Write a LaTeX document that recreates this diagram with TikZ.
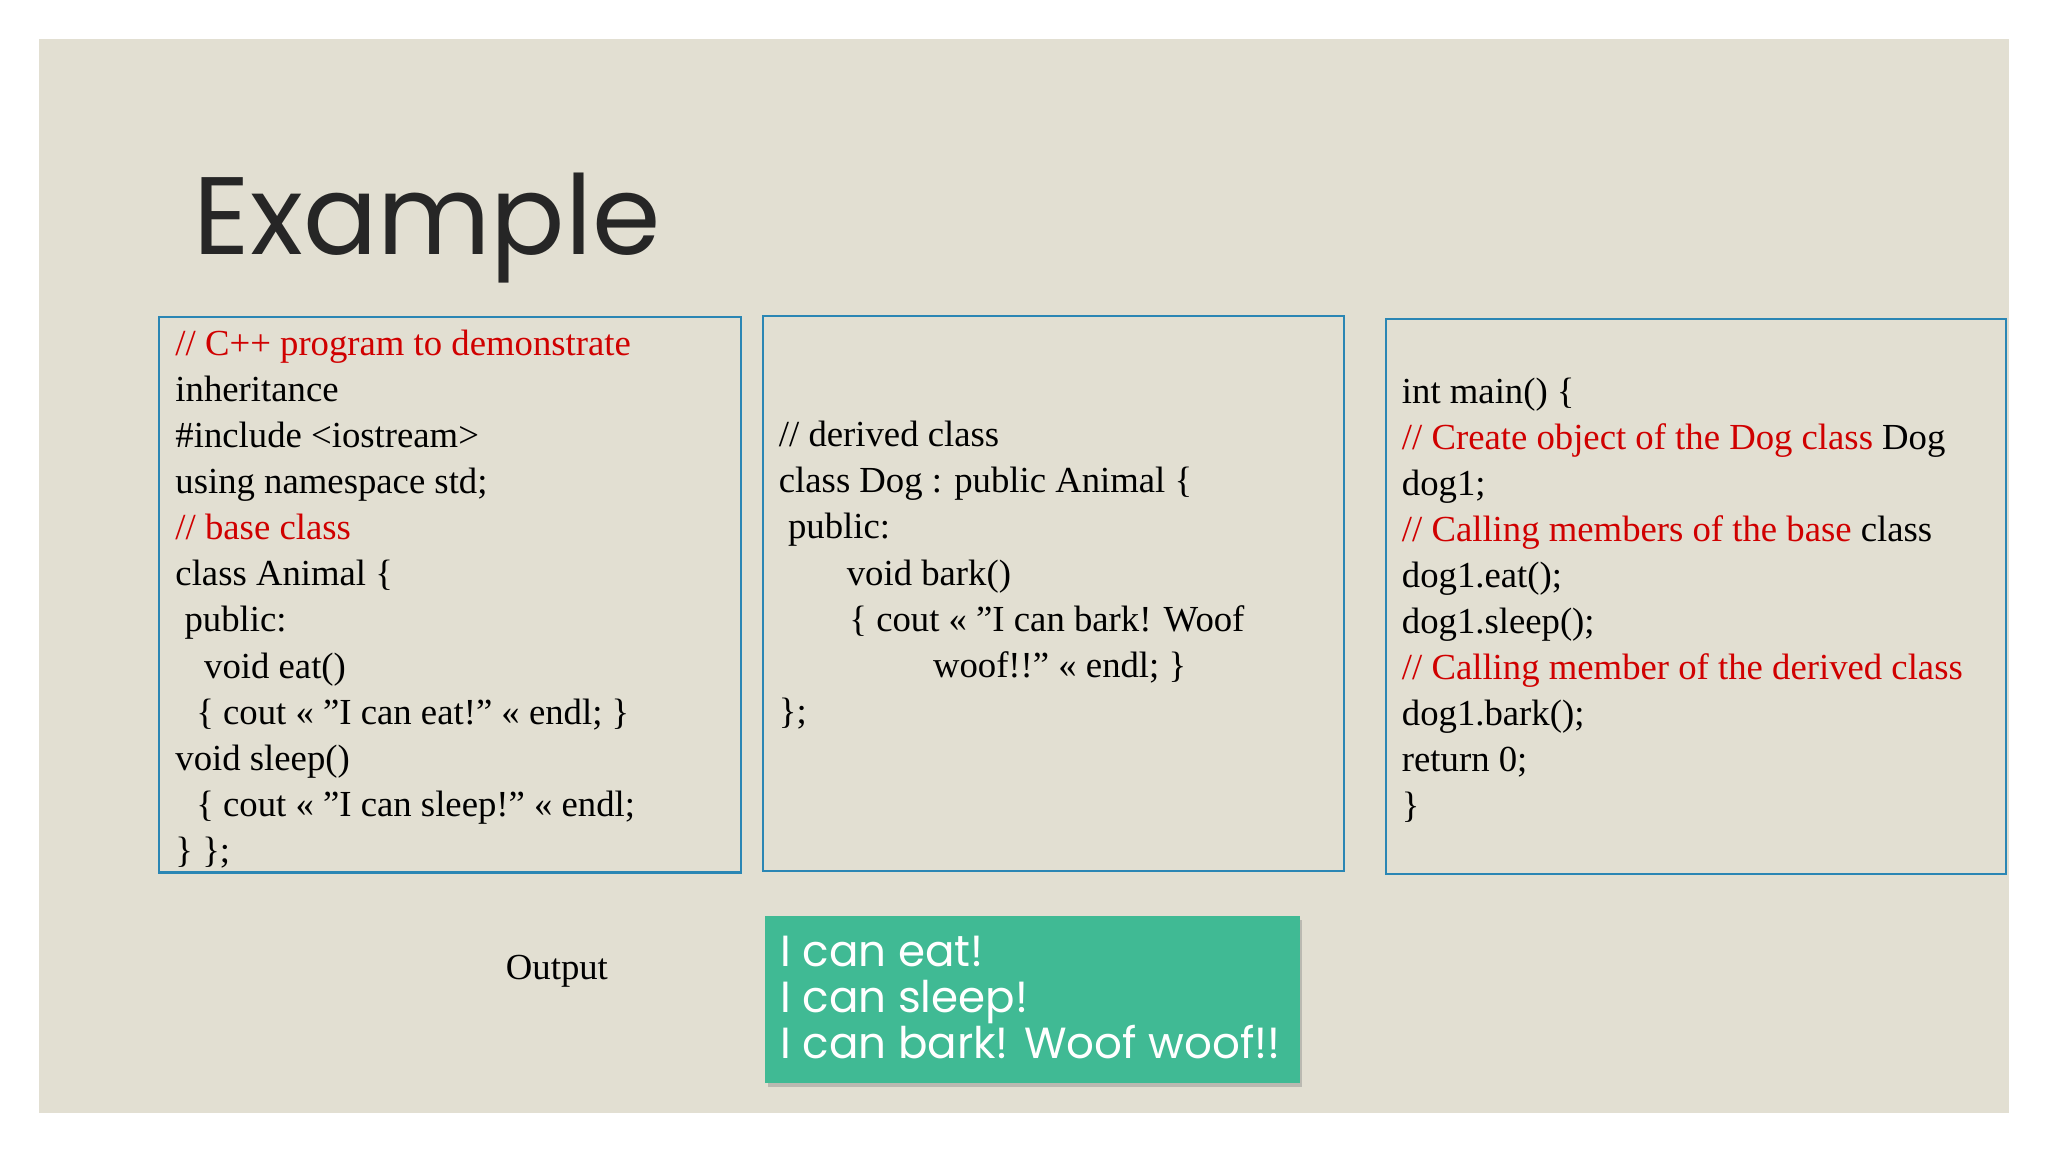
\documentclass[tikz,border=0pt]{standalone}
\usepackage{fontspec}
\setmainfont{Liberation Serif}
\newfontfamily\titlefont{Poppins}
\usetikzlibrary{shadows}
\definecolor{bg}{HTML}{E2DFD2}
\definecolor{frame}{HTML}{2A86B4}
\definecolor{cred}{HTML}{D00000}
\definecolor{teal}{HTML}{40BA94}
\tikzset{
  code/.style={anchor=base west,inner sep=0pt,font=\fontsize{16}{20}\selectfont},
  box/.style={draw=frame,line width=0.9pt},
}
\begin{document}
\begin{tikzpicture}[x=0.02cm,y=-0.02cm]
\useasboundingbox (0,0) rectangle (1568,882);
\fill[white] (0,0) rectangle (1568,882);
\fill[bg] (30,30) rectangle (1538,852);
\node[anchor=base west,inner sep=0pt,font=\titlefont\fontsize{48}{56}\selectfont,text=black!85] (title) at (148,195) {Example};
\draw[box] (122,243) rectangle (567,668);
\draw[box] (584,242) rectangle (1029,667);
\draw[box] (1061,244) rectangle (1536,669);
% box 1
\foreach \i/\x/\t in {0/134/{\color{cred}// C++ program to demonstrate},1/134/inheritance,2/134/{\#include <iostream>},3/134/{using namespace std;},4/134/{\color{cred}// base class},5/134/{class Animal \{},6/141/{public:},7/156/{void eat()},8/150/{\{ cout << "I can eat!" << endl; \}},9/134/{void sleep()},10/150/{\{ cout << "I can sleep!" << endl;},11/134/{\} \};}}
  \node[code] (a\i) at (\x,272+35.3*\i) {\t};
% box 2
\foreach \i/\x/\t in {0/596/{// derived class},1/596/{class Dog : public Animal \{},2/603/{public:},3/648/{void bark()},4/650/{\{ cout << "I can bark! Woof},5/714/{woof!!" << endl; \}},6/596/{\};}}
  \node[code] (b\i) at (\x,342+35.3*\i) {\t};
% box 3
\foreach \i/\t in {0/{int main() \{},1/{{\color{cred}// Create object of the Dog class} Dog},2/{dog1;},3/{{\color{cred}// Calling members of the base} class},4/{dog1.eat();},5/{dog1.sleep();},6/{\color{cred}// Calling member of the derived class},7/{dog1.bark();},8/{return 0;},9/{\}}}
  \node[code] (c\i) at (1073,309+35.2*\i) {\t};
\node[code] (out) at (387,750) {Output};
\fill[teal,drop shadow={shadow xshift=1pt,shadow yshift=-2pt,opacity=0.4}] (586,701) rectangle (995,829);
\foreach \i/\t in {0/{I can eat!},1/{I can sleep!},2/{I can bark! Woof woof!!}}
  \node[anchor=base west,inner sep=0pt,text=white,font=\titlefont\fontsize{19}{23}\selectfont] (o\i) at (597,740+35.3*\i) {\t};
\end{tikzpicture}
\end{document}
